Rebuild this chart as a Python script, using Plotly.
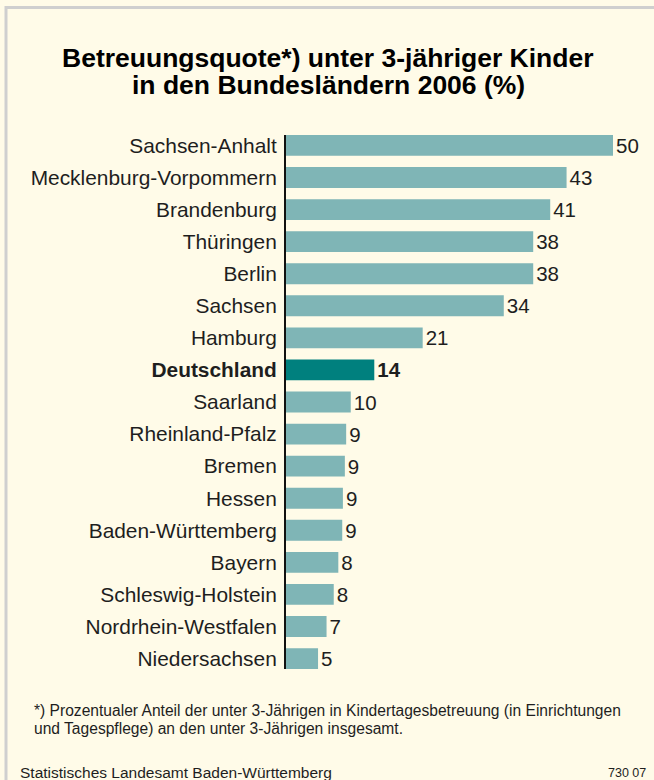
import plotly.graph_objects as go

# ---- data ----
laender = ["Sachsen-Anhalt", "Mecklenburg-Vorpommern", "Brandenburg", "Thüringen", "Berlin",
           "Sachsen", "Hamburg", "Deutschland", "Saarland", "Rheinland-Pfalz", "Bremen",
           "Hessen", "Baden-Württemberg", "Bayern", "Schleswig-Holstein",
           "Nordrhein-Westfalen", "Niedersachsen"]
quote = [50.0, 42.9, 40.4, 37.8, 37.8, 33.3, 20.9, 13.5, 9.9, 9.2, 9.0, 8.7, 8.6, 8.0, 7.3, 6.2, 4.9]
labels = ["50", "43", "41", "38", "38", "34", "21", "14", "10", "9", "9", "9", "9", "8", "8", "7", "5"]
highlight = "Deutschland"
title_lines = ["Betreuungsquote*) unter 3-jähriger Kinder", "in den Bundesländern 2006 (%)"]
note_lines = ["*) Prozentualer Anteil der unter 3-Jährigen in Kindertagesbetreuung (in Einrichtungen",
              "und Tagespflege) an den unter 3-Jährigen insgesamt."]
source = "Statistisches Landesamt Baden-Württemberg"
code = "730 07"

# ---- style ----
W, H = 654, 780
L, R, T, B = 286, 8, 135, 111
BG = "#FFFBE8"
BAR = "#7FB5B6"
BAR_HI = "#00807E"
TXT = "#1e1e1e"
FONT = "Liberation Sans, Arial, sans-serif"

colors = [BAR_HI if c == highlight else BAR for c in laender]
texts = [f"<b>{t}</b>" if c == highlight else t for c, t in zip(laender, labels)]
ticktext = [f"<b>{c}</b>" if c == highlight else c for c in laender]

fig = go.Figure(go.Bar(
    x=quote, y=laender, orientation="h",
    marker=dict(color=colors, line=dict(width=0)),
    text=texts, textposition="outside", cliponaxis=False, constraintext="none",
    textfont=dict(family=FONT, size=20.5, color=TXT),
    hoverinfo="skip",
))

pw = W - L - R
ph = H - T - B
def px_x(x):
    return (x - L) / pw
def px_y(y):
    return 1 - (y - T) / ph

annotations = []
for line, yc in zip(title_lines, [58, 85]):
    annotations.append(dict(text=f"<b>{line}</b>", xref="paper", yref="paper",
                            x=px_x(328), y=px_y(yc), xanchor="center", yanchor="middle",
                            showarrow=False, font=dict(family=FONT, size=26.5, color="#000000")))
for line, yc in zip(note_lines, [710.5, 728]):
    annotations.append(dict(text=line, xref="paper", yref="paper",
                            x=px_x(32), y=px_y(yc), xanchor="left", yanchor="middle",
                            showarrow=False, font=dict(family=FONT, size=15.6, color=TXT)))
annotations.append(dict(text=source, xref="paper", yref="paper", x=px_x(18), y=px_y(772),
                        xanchor="left", yanchor="middle", showarrow=False,
                        font=dict(family=FONT, size=15.5, color=TXT)))
annotations.append(dict(text=code, xref="paper", yref="paper", x=px_x(648), y=px_y(773),
                        xanchor="right", yanchor="middle", showarrow=False,
                        font=dict(family=FONT, size=12.5, color=TXT)))

fig.update_layout(
    width=W, height=H,
    margin=dict(l=L, r=R, t=T, b=B, pad=0),
    paper_bgcolor=BG, plot_bgcolor=BG,
    bargap=0.35, showlegend=False,
    font=dict(family=FONT, color=TXT),
    xaxis=dict(range=[0, pw / 6.54], visible=False, fixedrange=True),
    yaxis=dict(autorange=False, range=[16.325, -0.325], categoryorder="array",
               categoryarray=laender, tickvals=laender, ticktext=ticktext,
               showline=True, linecolor="#111111", linewidth=2, ticks="",
               ticklabelstandoff=3, showgrid=False, zeroline=False,
               tickfont=dict(family=FONT, size=20.9, color=TXT)),
    shapes=[
        dict(type="line", xref="paper", yref="paper", x0=px_x(5), x1=px_x(660),
             y0=px_y(7.5), y1=px_y(7.5), line=dict(color="#CFCFCF", width=3)),
        dict(type="line", xref="paper", yref="paper", x0=px_x(6), x1=px_x(6),
             y0=px_y(6), y1=px_y(790), line=dict(color="#CFCFCF", width=3)),
    ],
    annotations=annotations,
)

fig.write_html("out.html", config={"displayModeBar": False},
               post_script="document.body.style.margin='0';document.body.style.overflow='hidden';")
